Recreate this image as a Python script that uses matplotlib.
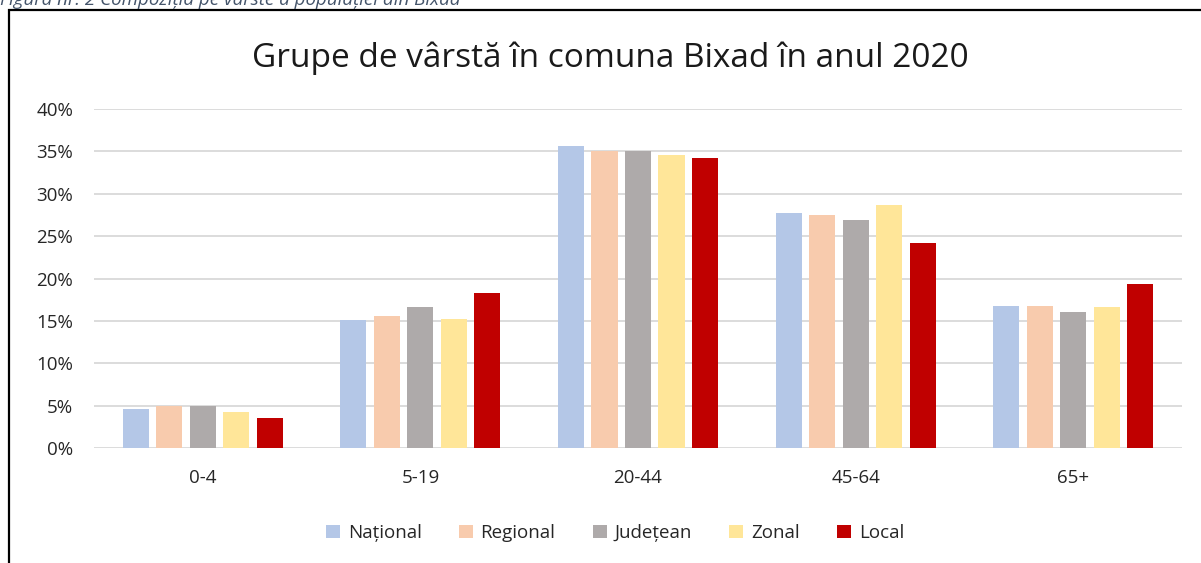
import numpy as np
import matplotlib.pyplot as plt
from matplotlib.patches import Rectangle
from matplotlib.ticker import FuncFormatter

plt.rcParams['font.family'] = ['Open Sans', 'DejaVu Sans']

groups = ['0-4', '5-19', '20-44', '45-64', '65+']
series = ['Național', 'Regional', 'Județean', 'Zonal', 'Local']
national = [4.6, 15.1, 35.6, 27.7, 16.8]
regional = [5.0, 15.6, 35.0, 27.5, 16.8]
judetean = [4.9, 16.6, 35.0, 26.9, 16.1]
zonal = [4.3, 15.2, 34.6, 28.7, 16.6]
local = [3.5, 18.3, 34.2, 24.2, 19.3]
colors = ['#B4C7E7', '#F8CBAD', '#AEAAAA', '#FFE699', '#C00000']

values = [national, regional, judetean, zonal, local]

fig = plt.figure(figsize=(12.01, 5.63), dpi=100)

# chart border (cut off on the right and bottom like the screenshot)
fig.patches.append(Rectangle((9 / 1201, -0.1), 1.2, (563 - 10) / 563 + 0.1,
                             transform=fig.transFigure, fill=False,
                             edgecolor='black', linewidth=1.6))
fig.text(0.0, 1.0, 'Figura nr. 2 Compoziția pe vârste a populației din Bixad',
         ha='left', va='center', fontsize=13.5, style='italic', color='#44546A')

ax = fig.add_axes([94 / 1201, (563 - 448) / 563, 1088 / 1201, 339 / 563])

x = np.arange(len(groups))
step = 0.154
width = 0.12
for j, (name, vals) in enumerate(zip(series, values)):
    ax.bar(x + (j - 2) * step, np.array(vals) / 100, width, color=colors[j],
           label=name, zorder=3)

ax.set_xlim(-0.5, len(groups) - 0.5)
ax.set_ylim(0, 0.40)
ax.set_yticks(np.arange(0, 0.41, 0.05))
ax.yaxis.set_major_formatter(FuncFormatter(lambda v, p: f'{v * 100:.0f}%'))
ax.set_xticks(x)
ax.set_xticklabels(groups)
ax.grid(axis='y', color='#D6D6D6', linewidth=1.2, zorder=0)
for s in ax.spines.values():
    s.set_visible(False)
ax.tick_params(length=0, labelsize=13.5, colors='#262626')
ax.tick_params(axis='y', pad=15)
ax.tick_params(axis='x', pad=15)

fig.text(610 / 1201, 1 - 58 / 563, 'Grupe de vârstă în comuna Bixad în anul 2020',
         ha='center', va='center', fontsize=24, color='#1a1a1a')

fig.legend(loc='center', bbox_to_anchor=(615 / 1201, 1 - 533 / 563), ncol=5,
           frameon=False, fontsize=13.5, handlelength=0.75, handleheight=0.75,
           handletextpad=0.4, columnspacing=2.0, labelcolor='#262626')

plt.savefig('out.png', dpi=100)
